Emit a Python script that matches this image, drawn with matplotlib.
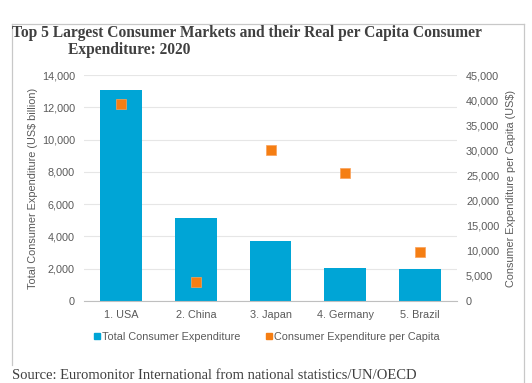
import matplotlib
matplotlib.use("Agg")
import matplotlib.pyplot as plt
from matplotlib.lines import Line2D
from matplotlib.ticker import FuncFormatter

countries = ["1. USA", "2. China", "3. Japan", "4. Germany", "5. Brazil"]
total_exp = [13050, 5150, 3700, 2030, 1980]          # US$ billion
per_capita = [39300, 3700, 30050, 25500, 9800]        # US$

BLUE = "#00A5D6"
ORANGE = "#F57E13"
GRAY_TXT = "#5A5A5A"

plt.rcParams["font.family"] = ["Liberation Sans", "DejaVu Sans"]

fig = plt.figure(figsize=(5.32, 3.83), dpi=100)
ax = fig.add_axes([84 / 532, 1 - 301 / 383, (457 - 84) / 532, (301 - 75) / 383])
ax2 = ax.twinx()

x = range(len(countries))
ax.bar(x, total_exp, width=0.56, color=BLUE, zorder=2)
ax2.scatter(x, per_capita, marker="s", s=42, color=ORANGE, edgecolor="#F9A15A",
            linewidth=0.5, zorder=3)

ax.set_xlim(-0.5, 4.5)
ax.set_ylim(0, 14000)
ax2.set_ylim(0, 45000)
ax.set_yticks(range(0, 14001, 2000))
ax2.set_yticks(range(0, 45001, 5000))
fmt = FuncFormatter(lambda v, _: f"{int(v):,}")
ax.yaxis.set_major_formatter(fmt)
ax2.yaxis.set_major_formatter(fmt)
ax.set_xticks(list(x), countries)

ax.grid(axis="y", color="#E6E6E6", lw=0.8, zorder=0)
ax.set_axisbelow(True)
for a in (ax, ax2):
    for s in a.spines.values():
        s.set_visible(False)
    a.tick_params(length=0, colors=GRAY_TXT, labelsize=7.8)
ax.spines["bottom"].set_visible(True)
ax.spines["bottom"].set_color("#BFBFBF")
ax.tick_params(axis="y", pad=6.5)
ax.tick_params(axis="x", pad=6.5)
ax2.tick_params(axis="y", pad=6.5)

ax.set_ylabel("Total Consumer Expenditure (US$ billion)", color=GRAY_TXT, fontsize=7.8, labelpad=3)
ax2.set_ylabel("Consumer Expenditure per Capita (US$)", color=GRAY_TXT, fontsize=7.8, labelpad=5)

handles = [
    Line2D([], [], marker="s", ls="", color=BLUE, markersize=5, label="Total Consumer Expenditure"),
    Line2D([], [], marker="s", ls="", color=ORANGE, markersize=5, label="Consumer Expenditure per Capita"),
]
fig.legend(handles=handles, loc="center", bbox_to_anchor=(0.5, 1 - 337 / 383), ncol=2,
           frameon=False, fontsize=7.8, handletextpad=0.1, columnspacing=2.2,
           labelcolor=GRAY_TXT, handlelength=0.8)

# chart frame
frame_col = "#C8C8C8"
fig.add_artist(Line2D([12 / 532, 524 / 532], [1 - 24 / 383] * 2, color=frame_col, lw=0.9))
fig.add_artist(Line2D([12 / 532] * 2, [1 - 24 / 383, 1 - 365 / 383], color=frame_col, lw=0.9))
fig.add_artist(Line2D([524 / 532] * 2, [1 - 24 / 383, 0], color=frame_col, lw=0.9))

title_kw = dict(family=["Liberation Serif", "DejaVu Serif"], fontweight="bold",
                fontsize=11.2, color="#404040", va="center", ha="left")
fig.text(12 / 532, 1 - 33 / 383, "Top 5 Largest Consumer Markets and their Real per Capita Consumer", **title_kw)
fig.text(68 / 532, 1 - 50 / 383, "Expenditure: 2020", **title_kw)

fig.text(12 / 532, 1 / 383, "Source: Euromonitor International from national statistics/UN/OECD",
         family=["Liberation Serif", "DejaVu Serif"], fontsize=10.5, color="#404040",
         ha="left", va="bottom")

fig.savefig("out.png", dpi=100, facecolor="white")
